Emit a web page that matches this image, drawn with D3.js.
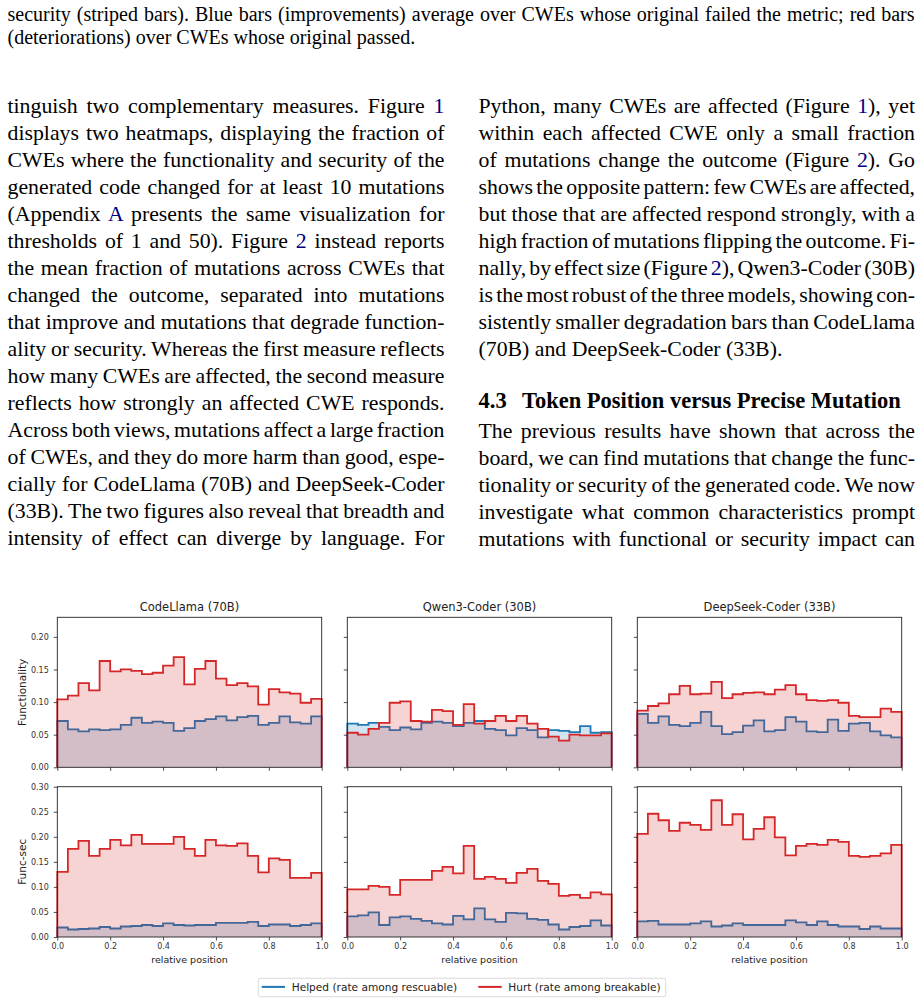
<!DOCTYPE html>
<meta charset="utf-8">
<style>
	body {
		margin:			0px;
		background:		#fff;
	}
	svg {
		display:		block;
	}
	.serif {
		font-family:	"Liberation Serif", "Times New Roman", serif;
		fill:			#000;
	}
	.link {
		fill:			#000080;
	}
	.sans {
		font-family:	"DejaVu Sans", sans-serif;
		fill:			#222;
	}
</style>
<body>
<script src="https://d3js.org/d3.v7.min.js"></script>
<script>

	//Page text, one entry per printed line ({x} marks a blue reference)
	var captionLines = [
		"security (striped bars). Blue bars (improvements) average over CWEs whose original failed the metric; red bars",
		"(deteriorations) over CWEs whose original passed."
	];
	var leftLines = [
		"tinguish two complementary measures. Figure {1}",
		"displays two heatmaps, displaying the fraction of",
		"CWEs where the functionality and security of the",
		"generated code changed for at least 10 mutations",
		"(Appendix {A} presents the same visualization for",
		"thresholds of 1 and 50). Figure {2} instead reports",
		"the mean fraction of mutations across CWEs that",
		"changed the outcome, separated into mutations",
		"that improve and mutations that degrade function-",
		"ality or security. Whereas the first measure reflects",
		"how many CWEs are affected, the second measure",
		"reflects how strongly an affected CWE responds.",
		"Across both views, mutations affect a large fraction",
		"of CWEs, and they do more harm than good, espe-",
		"cially for CodeLlama (70B) and DeepSeek-Coder",
		"(33B). The two figures also reveal that breadth and",
		"intensity of effect can diverge by language. For"
	];
	var rightLinesTop = [
		"Python, many CWEs are affected (Figure {1}), yet",
		"within each affected CWE only a small fraction",
		"of mutations change the outcome (Figure {2}). Go",
		"shows the opposite pattern: few CWEs are affected,",
		"but those that are affected respond strongly, with a",
		"high fraction of mutations flipping the outcome. Fi-",
		"nally, by effect size (Figure {2}), Qwen3-Coder (30B)",
		"is the most robust of the three models, showing con-",
		"sistently smaller degradation bars than CodeLlama",
		"(70B) and DeepSeek-Coder (33B)."
	];
	var headingNumber = "4.3";
	var headingText = "Token Position versus Precise Mutation";
	var rightLinesBottom = [
		"The previous results have shown that across the",
		"board, we can find mutations that change the func-",
		"tionality or security of the generated code. We now",
		"investigate what common characteristics prompt",
		"mutations with functional or security impact can"
	];

	//Chart labels
	var models = ["CodeLlama (70B)", "Qwen3-Coder (30B)", "DeepSeek-Coder (33B)"];
	var metrics = ["Functionality", "Func-sec"];
	var legendLabels = ["Helped (rate among rescuable)", "Hurt (rate among breakable)"];
	var xTicks = [0, 0.2, 0.4, 0.6, 0.8, 1.0];
	var yTicksFunc = [0, 0.05, 0.10, 0.15, 0.20];
	var yTicksSec = [0, 0.05, 0.10, 0.15, 0.20, 0.25, 0.30];
	var nBins = 25;

	//Rates per relative-position bin
	var codellamaFuncHelped = [0.071,0.058,0.055,0.058,0.057,0.058,0.065,0.076,0.068,0.070,0.068,0.056,0.060,0.071,0.074,0.078,0.072,0.077,0.079,0.065,0.068,0.078,0.069,0.067,0.078];
	var codellamaFuncHurt   = [0.104,0.110,0.129,0.118,0.163,0.147,0.150,0.148,0.143,0.145,0.156,0.169,0.127,0.151,0.163,0.136,0.126,0.129,0.124,0.096,0.120,0.115,0.113,0.099,0.105];
	var qwenFuncHelped      = [0.067,0.065,0.068,0.062,0.057,0.061,0.058,0.068,0.070,0.068,0.063,0.068,0.071,0.059,0.057,0.049,0.060,0.057,0.046,0.057,0.056,0.054,0.063,0.053,0.054];
	var qwenFuncHurt        = [0.053,0.050,0.059,0.068,0.099,0.101,0.071,0.070,0.088,0.086,0.065,0.097,0.067,0.071,0.079,0.071,0.079,0.067,0.059,0.047,0.041,0.050,0.049,0.049,0.052];
	var deepseekFuncHelped  = [0.082,0.068,0.078,0.065,0.063,0.068,0.085,0.063,0.051,0.054,0.064,0.072,0.055,0.057,0.077,0.070,0.055,0.054,0.073,0.056,0.067,0.068,0.055,0.049,0.046];
	var deepseekFuncHurt    = [0.087,0.094,0.098,0.112,0.125,0.112,0.113,0.131,0.106,0.112,0.114,0.115,0.112,0.119,0.126,0.112,0.103,0.102,0.103,0.099,0.079,0.077,0.077,0.090,0.085];
	var codellamaSecHelped  = [0.019,0.015,0.016,0.017,0.020,0.017,0.021,0.022,0.024,0.022,0.027,0.024,0.023,0.024,0.024,0.028,0.028,0.028,0.030,0.022,0.025,0.025,0.022,0.024,0.027];
	var codellamaSecHurt    = [0.130,0.176,0.192,0.162,0.176,0.194,0.183,0.204,0.186,0.186,0.186,0.200,0.176,0.162,0.194,0.183,0.182,0.187,0.162,0.129,0.157,0.154,0.118,0.118,0.128];
	var qwenSecHelped       = [0.041,0.043,0.049,0.024,0.039,0.041,0.036,0.032,0.027,0.025,0.042,0.035,0.057,0.035,0.030,0.048,0.047,0.036,0.034,0.025,0.015,0.020,0.022,0.033,0.023];
	var qwenSecHurt         = [0.095,0.095,0.102,0.100,0.084,0.114,0.114,0.114,0.132,0.140,0.127,0.182,0.116,0.120,0.116,0.108,0.128,0.136,0.112,0.106,0.082,0.084,0.078,0.089,0.085];
	var deepseekSecHelped   = [0.031,0.032,0.025,0.025,0.025,0.027,0.031,0.021,0.023,0.027,0.024,0.024,0.024,0.024,0.033,0.029,0.024,0.031,0.024,0.021,0.021,0.016,0.021,0.017,0.017];
	var deepseekSecHurt     = [0.206,0.246,0.233,0.212,0.228,0.224,0.214,0.273,0.224,0.245,0.195,0.216,0.239,0.199,0.163,0.182,0.186,0.184,0.194,0.190,0.162,0.160,0.162,0.167,0.184];

	//Grid of panels: rows are metrics, columns are models
	var panels = [
		[ [codellamaFuncHelped, codellamaFuncHurt], [qwenFuncHelped, qwenFuncHurt], [deepseekFuncHelped, deepseekFuncHurt] ],
		[ [codellamaSecHelped, codellamaSecHurt],   [qwenSecHelped, qwenSecHurt],   [deepseekSecHelped, deepseekSecHurt] ]
	];

	var blue = "#1f77b4";
	var red = "#d62728";

	var svg = d3.select("body")
				.append("svg")
				.attr("width", 924)
				.attr("height", 1004);

	//Writes one line of body text, stretched to the column width when justified
	function writeLine(str, x, y, width, justify, size, weight) {
		var t = svg.append("text")
					.attr("class", "serif")
					.attr("x", x)
					.attr("y", y)
					.attr("font-size", size)
					.attr("font-weight", weight || "normal");
		str.split(/(\{[^}]*\})/).forEach(function(part) {
			if (part === "") return;
			if (part[0] === "{")
				t.append("tspan").attr("class", "link").text(part.slice(1, -1));
			else
				t.append("tspan").text(part);
		});
		if (justify) {
			var natural = t.node().getComputedTextLength();
			var spaces = (str.match(/ /g) || []).length;
			if (spaces > 0)
				t.style("word-spacing", ((width - natural) / spaces) + "px");
		}
	}

	var bodySize = 21.8;
	var lineStep = 27.05;
	var firstBase = 112.6;

	captionLines.forEach(function(s, i) {
		writeLine(s, 7.5, 20.7 + i * 23.6, 907, i === 0, 20);
	});
	leftLines.forEach(function(s, i) {
		writeLine(s, 7.5, firstBase + i * lineStep, 437, true, bodySize);
	});
	rightLinesTop.forEach(function(s, i) {
		writeLine(s, 478.5, firstBase + i * lineStep, 436.5, i < rightLinesTop.length - 1, bodySize);
	});
	writeLine(headingNumber, 478.5, firstBase + 11 * lineStep - 2, 0, false, 22.5, "bold");
	writeLine(headingText, 522, firstBase + 11 * lineStep - 2, 0, false, 22.5, "bold");
	rightLinesBottom.forEach(function(s, i) {
		writeLine(s, 478.5, firstBase + (12 + i) * lineStep + 1, 436.5, true, bodySize);
	});

	//Panel geometry
	var colX = [57.3, 347.3, 637.3];
	var panelW = 264.4;
	var rows = [
		{ top: 617.3, h: 150,   max: 0.23, ticks: yTicksFunc },
		{ top: 786.7, h: 150.3, max: 0.30, ticks: yTicksSec }
	];

	var binStarts = d3.range(nBins).map(function(i) { return i / nBins; });

	rows.forEach(function(row, r) {
		colX.forEach(function(x0, c) {
			var xScale = d3.scaleLinear().domain([0, 1]).range([x0, x0 + panelW]);
			var yScale = d3.scaleLinear().domain([0, row.max]).range([row.top + row.h, row.top]);
			var g = svg.append("g");

			var area = d3.area()
						.curve(d3.curveStepAfter)
						.x(function(d) { return xScale(d.x); })
						.y0(yScale(0))
						.y1(function(d) { return yScale(d.v); });
			var line = d3.line()
						.curve(d3.curveStepAfter)
						.x(function(d) { return xScale(d.x); })
						.y(function(d) { return yScale(d.v); });

			panels[r][c].forEach(function(values, k) {
				var color = k === 0 ? blue : red;
				var pts = values.map(function(v, i) { return { x: binStarts[i], v: v }; });
				pts.push({ x: 1, v: values[values.length - 1] });
				g.append("path")
					.attr("d", area(pts))
					.attr("fill", color)
					.attr("fill-opacity", 0.2);
				var outline = [{ x: 0, v: 0 }].concat(pts).concat([{ x: 1, v: 0 }]);
				g.append("path")
					.attr("d", line(outline))
					.attr("fill", "none")
					.attr("stroke", color)
					.attr("stroke-width", 1.8)
					.attr("stroke-linejoin", "miter");
			});

			//Axes
			var yAxis = d3.axisLeft(yScale)
						.tickValues(row.ticks)
						.tickSize(3.5)
						.tickPadding(5)
						.tickFormat(c === 0 ? d3.format(".2f") : function() { return ""; });
			var xAxis = d3.axisBottom(xScale)
						.tickValues(xTicks)
						.tickSize(3.5)
						.tickPadding(2.5)
						.tickFormat(r === 1 ? d3.format(".1f") : function() { return ""; });

			var ya = g.append("g")
						.attr("transform", "translate(" + x0 + ",0)")
						.call(yAxis);
			var xa = g.append("g")
						.attr("transform", "translate(0," + (row.top + row.h) + ")")
						.call(xAxis);
			[ya, xa].forEach(function(a) {
				a.select(".domain").remove();
				a.selectAll("line").attr("stroke", "#222").attr("stroke-width", 0.8);
				a.selectAll("text")
					.attr("font-family", "DejaVu Sans, sans-serif")
					.attr("font-size", 8)
					.attr("fill", "#333");
			});

			//Frame
			g.append("rect")
				.attr("x", x0)
				.attr("y", row.top)
				.attr("width", panelW)
				.attr("height", row.h)
				.attr("fill", "none")
				.attr("stroke", "#222")
				.attr("stroke-width", 0.9);

			if (r === 0) {
				g.append("text")
					.attr("class", "sans")
					.attr("x", x0 + panelW / 2)
					.attr("y", 611)
					.attr("text-anchor", "middle")
					.attr("font-size", 11.5)
					.text(models[c]);
			}
			if (r === 1) {
				g.append("text")
					.attr("class", "sans")
					.attr("x", x0 + panelW / 2)
					.attr("y", 963)
					.attr("text-anchor", "middle")
					.attr("font-size", 9.5)
					.text("relative position");
			}
			if (c === 0) {
				g.append("text")
					.attr("class", "sans")
					.attr("transform", "translate(25.5," + (row.top + row.h / 2) + ") rotate(-90)")
					.attr("text-anchor", "middle")
					.attr("font-size", 10.5)
					.text(metrics[r]);
			}
		});
	});

	//Legend
	var legend = svg.append("g");
	legend.append("rect")
		.attr("x", 258.3)
		.attr("y", 978.3)
		.attr("width", 407.4)
		.attr("height", 18.4)
		.attr("rx", 2)
		.attr("fill", "#fff")
		.attr("stroke", "#d0d0d0")
		.attr("stroke-width", 0.8);
	legend.selectAll("line.key")
		.data(legendLabels)
		.enter()
		.append("line")
		.attr("class", "key")
		.attr("x1", function(d, i) { return i === 0 ? 261.7 : 478.3; })
		.attr("x2", function(d, i) { return i === 0 ? 285 : 501.7; })
		.attr("y1", 986.9)
		.attr("y2", 986.9)
		.attr("stroke", function(d, i) { return i === 0 ? blue : red; })
		.attr("stroke-width", 2);
	legend.selectAll("text")
		.data(legendLabels)
		.enter()
		.append("text")
		.attr("class", "sans")
		.attr("x", function(d, i) { return i === 0 ? 291.7 : 508.3; })
		.attr("y", 990.8)
		.attr("font-size", 10.6)
		.text(function(d) { return d; });

</script>
</body>
